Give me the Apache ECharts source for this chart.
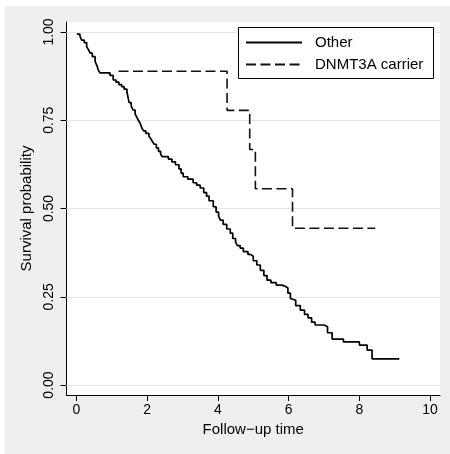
<!DOCTYPE html>
<html><head><meta charset="utf-8">
<script src="https://cdn.jsdelivr.net/npm/echarts@6/dist/echarts.min.js"></script>
<style>html,body{margin:0;padding:0;background:#fff}#c{width:450px;height:454px}</style>
</head><body><div id="c"></div>
<script>
const otherTimes = [0.01,0.10,0.15,0.22,0.29,0.34,0.39,0.45,0.53,0.58,0.62,0.67,0.95,1.04,1.12,1.20,1.28,1.35,1.43,1.46,1.49,1.55,1.60,1.66,1.71,1.75,1.80,1.85,1.90,1.96,2.05,2.10,2.15,2.20,2.26,2.32,2.38,2.42,2.60,2.70,2.80,2.90,2.96,3.02,3.15,3.30,3.40,3.50,3.60,3.68,3.75,3.87,3.95,4.02,4.07,4.15,4.25,4.35,4.42,4.50,4.55,4.63,4.72,4.85,4.92,5.00,5.10,5.20,5.30,5.39,5.50,5.65,5.80,5.90,5.98,6.05,6.10,6.20,6.33,6.45,6.55,6.65,6.75,7.00,7.10,7.23,7.55,8.00,8.22,8.36,9.13];
const otherSurv = [0.994,0.988,0.977,0.970,0.958,0.950,0.940,0.930,0.916,0.905,0.892,0.884,0.877,0.864,0.858,0.851,0.845,0.838,0.830,0.815,0.800,0.790,0.779,0.768,0.758,0.750,0.742,0.728,0.720,0.713,0.705,0.698,0.690,0.682,0.672,0.662,0.655,0.647,0.640,0.632,0.624,0.612,0.600,0.590,0.583,0.573,0.566,0.558,0.545,0.535,0.522,0.505,0.490,0.478,0.467,0.455,0.442,0.430,0.415,0.405,0.395,0.388,0.378,0.370,0.365,0.352,0.340,0.325,0.310,0.297,0.290,0.283,0.280,0.275,0.260,0.245,0.240,0.225,0.212,0.200,0.190,0.178,0.170,0.165,0.148,0.130,0.122,0.113,0.099,0.074,0.074];
const carrierTimes = [1.19,4.26,4.90,5.06,6.11,8.45];
const carrierSurv = [0.889,0.778,0.667,0.556,0.444,0.444];
const xTicks = [0,2,4,6,8,10];
const yTicks = [0,0.25,0.5,0.75,1];
const seriesNames = ['Other','DNMT3A carrier'];

const FONT = "'Liberation Sans', Arial, Helvetica, sans-serif";
const chart = echarts.init(document.getElementById('c'), null, {renderer:'canvas'});
const otherData = otherTimes.map((t,i)=>[t, otherSurv[i]]);
const carrierData = carrierTimes.map((t,i)=>[t, carrierSurv[i]]);

chart.setOption({
  animation:false,
  backgroundColor:'#efefef',
  textStyle:{fontFamily:FONT},
  graphic:[
    {type:'rect', shape:{x:0,y:0,width:5,height:454}, style:{fill:'#fff'}, silent:true},
    {type:'rect', shape:{x:0,y:0,width:450,height:6}, style:{fill:'#fff'}, silent:true},
    {type:'rect', z:20, shape:{x:238.5,y:27.5,width:195,height:51}, style:{fill:'#fff', stroke:'#000', lineWidth:1}, silent:true}
  ],
  grid:{left:66.5, top:22, right:10, bottom:59, show:true, backgroundColor:'#fff', borderWidth:0},
  legend:{
    z:30, orient:'vertical', left:245, top:35, padding:0, itemGap:7,
    itemWidth:56, itemHeight:14, data:seriesNames,
    itemStyle:{opacity:0, color:'rgba(0,0,0,0)', borderColor:'rgba(0,0,0,0)', borderWidth:0},
    textStyle:{fontFamily:FONT, fontSize:15, color:'#000', padding:[0,0,0,8]}
  },
  xAxis:{
    type:'value', min:-0.28, max:10.28,
    name:'Follow\u2212up time', nameLocation:'middle', nameGap:25,
    nameTextStyle:{fontFamily:FONT, fontSize:15, color:'#000'},
    axisLine:{show:true, onZero:false, lineStyle:{color:'#000', width:1}},
    axisTick:{show:true, inside:false, length:6, customValues:xTicks, lineStyle:{color:'#000'}},
    axisLabel:{customValues:xTicks, fontFamily:FONT, fontSize:14, color:'#000', margin:8},
    splitLine:{show:false}
  },
  yAxis:{
    type:'value', min:-0.0283, max:1.0283,
    name:'Survival probability', nameLocation:'middle', nameGap:28,
    nameTextStyle:{fontFamily:FONT, fontSize:15, color:'#000'},
    axisLine:{show:true, onZero:false, lineStyle:{color:'#000', width:1}},
    axisTick:{show:true, inside:false, length:6, customValues:yTicks, lineStyle:{color:'#000'}},
    axisLabel:{customValues:yTicks, rotate:90, fontFamily:FONT, fontSize:14, color:'#000', margin:10,
      formatter:v=>v.toFixed(2)},
    splitLine:{show:false}
  },
  series:[
    {name:seriesNames[0], type:'line', step:'end', data:otherData, showSymbol:false, symbol:'none', z:3,
      lineStyle:{color:'#000', width:1.7, type:'solid'}, itemStyle:{color:'#000'},
      markLine:{silent:true, z:1, symbol:['none','none'], label:{show:false},
        lineStyle:{color:'#e6e6e6', width:1, type:'solid'}, data:yTicks.map(v=>({yAxis:v}))}
    },
    {name:seriesNames[1], type:'line', step:'end', data:carrierData, showSymbol:false, symbol:'none', z:3,
      lineStyle:{color:'#111', width:1.6, type:[10,4.5]}, itemStyle:{color:'#111'}}
  ]
});
</script></body></html>
